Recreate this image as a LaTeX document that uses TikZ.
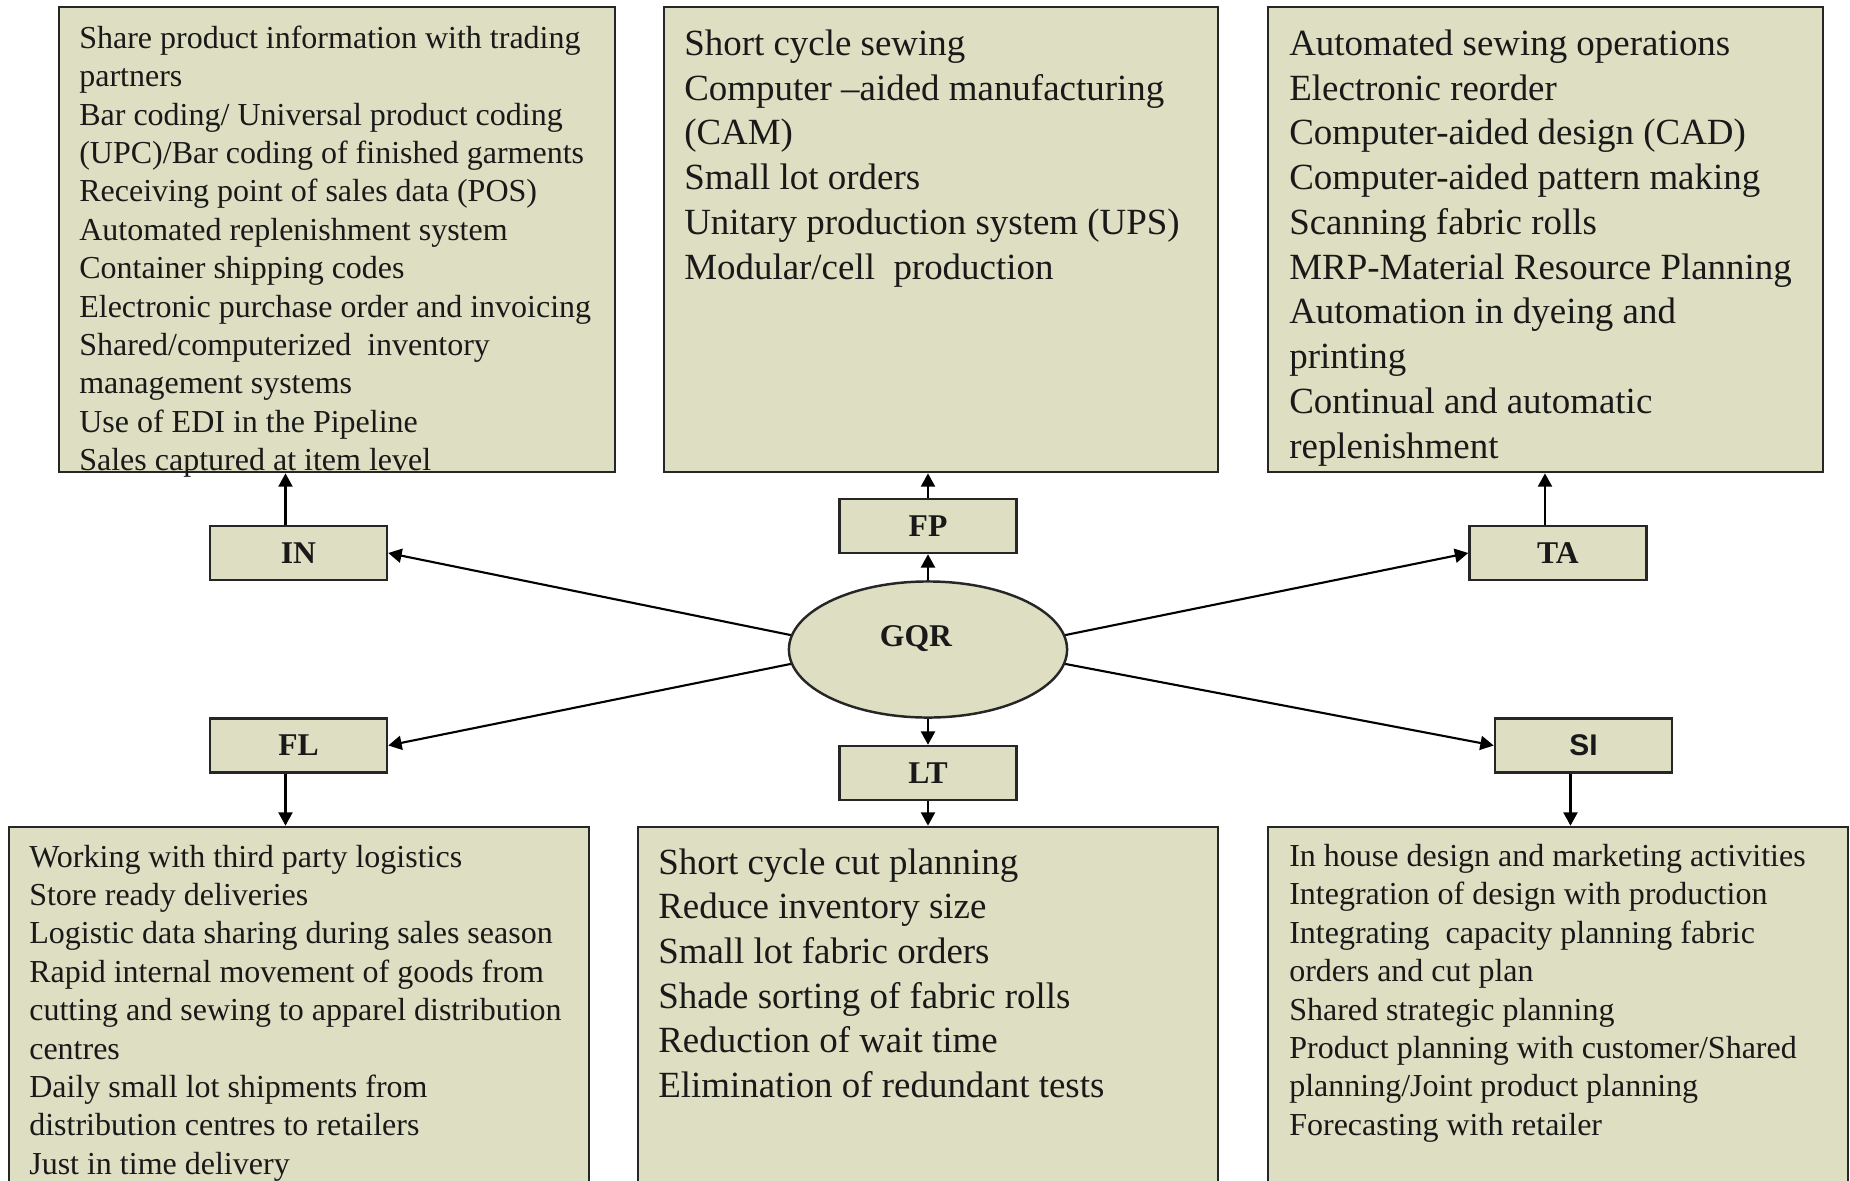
\documentclass[tikz,border=0pt]{standalone}
\usepackage{fontspec}
\setmainfont{Liberation Serif}
\newfontfamily\arialfont{Liberation Sans}
\usepackage{xcolor}
\usetikzlibrary{positioning, shapes.geometric, arrows.meta, calc}
\definecolor{khaki}{RGB}{222,222,194}

\begin{document}
\begin{tikzpicture}[
  x=0.01cm, y=-0.01cm,
  every node/.style={inner sep=0pt, text=black!90},
  listbox/.style={rectangle, fill=khaki, draw=black!85, line width=0.7pt,
                  minimum width=#1, minimum height=4.65cm},
  tag/.style={rectangle, fill=khaki, draw=black!85, line width=0.7pt,
              minimum width=1.77cm, minimum height=0.54cm,
              font=\fontsize{9}{11}\selectfont\bfseries},
  hub/.style={ellipse, fill=khaki, draw=black!85, line width=0.7pt,
              minimum width=2.78cm, minimum height=1.36cm},
  smalltxt/.style={anchor=north west, align=left, font=\fontsize{9.1}{10.92}\selectfont},
  bigtxt/.style={anchor=north west, align=left, font=\fontsize{10.5}{12.72}\selectfont},
  arr/.style={-{Triangle[length=3.8pt, width=4pt]}, line width=0.6pt},
]
\useasboundingbox (0,0) rectangle (1850,1181);
\clip (0,0) rectangle (1850,1181);

% top row of lists
\node[listbox=5.56cm] (inlist) at (337,239.5) {};
\node[listbox=5.54cm] (fplist) at (941,239.5) {};
\node[listbox=5.55cm] (talist) at (1545.5,239.5) {};

\node[smalltxt] (intext) at ($(inlist.north west)+(21,19.5)$) {%
  Share product information with trading\\
  partners\\
  Bar coding/ Universal product coding\\
  (UPC)/Bar coding of finished garments\\
  Receiving point of sales data (POS)\\
  Automated replenishment system\\
  Container shipping codes\\
  Electronic purchase order and invoicing\\
  Shared/computerized\ \ inventory\\
  management systems\\
  Use of EDI in the Pipeline\\
  Sales captured at item level};

\node[bigtxt] (fptext) at ($(fplist.north west)+(21,23.5)$) {%
  Short cycle sewing\\
  Computer –aided manufacturing\\
  (CAM)\\
  Small lot orders\\
  Unitary production system (UPS)\\
  Modular/cell\ \ production};

\node[bigtxt] (tatext) at ($(talist.north west)+(22,23.5)$) {%
  Automated sewing operations\\
  Electronic reorder\\
  Computer-aided design (CAD)\\
  Computer-aided pattern making\\
  Scanning fabric rolls\\
  MRP-Material Resource Planning\\
  Automation in dyeing and\\
  printing\\
  Continual and automatic\\
  replenishment};

% bottom row of lists
\node[listbox=5.80cm, minimum height=3.73cm] (fllist) at (299,1013.5) {};
\node[listbox=5.80cm, minimum height=3.73cm] (ltlist) at (928,1013.5) {};
\node[listbox=5.80cm, minimum height=3.73cm] (silist) at (1558,1013.5) {};

\node[smalltxt] (fltext) at ($(fllist.north west)+(21,18.5)$) {%
  Working with third party logistics\\
  Store ready deliveries\\
  Logistic data sharing during sales season\\
  Rapid internal movement of goods from\\
  cutting and sewing to apparel distribution\\
  centres\\
  Daily small lot shipments from\\
  distribution centres to retailers\\
  Just in time delivery};

\node[bigtxt] (lttext) at ($(ltlist.north west)+(21,22)$) {%
  Short cycle cut planning\\
  Reduce inventory size\\
  Small lot fabric orders\\
  Shade sorting of fabric rolls\\
  Reduction of wait time\\
  Elimination of redundant tests};

\node[smalltxt] (sitext) at ($(silist.north west)+(22,18)$) {%
  In house design and marketing activities\\
  Integration of design with production\\
  Integrating\ \ capacity planning fabric\\
  orders and cut plan\\
  Shared strategic planning\\
  Product planning with customer/Shared\\
  planning/Joint product planning\\
  Forecasting with retailer};

% tags and hub
\node[tag] (in) at (298.5,553) {IN};
\node[tag] (fp) at (928,526) {FP};
\node[tag] (ta) at (1558,553) {TA};
\node[tag] (fl) at (298.5,745.5) {FL};
\node[tag] (lt) at (928,773) {LT};
\node[tag, font=\arialfont\fontsize{8.5}{10}\selectfont\bfseries] (si) at (1583.5,745.5) {SI};

\node[hub] (gqr) at (928,649.5) {};
\node[font=\fontsize{9}{11}\selectfont\bfseries] (gqrlbl) at (916,638.5) {GQR};

% spokes
\draw[arr] (gqr.174) -- (in.east);
\draw[arr] (gqr.6) -- (ta.west);
\draw[arr] (gqr.186) -- (fl.east);
\draw[arr] (gqr.-6) -- (si.west);
\draw[arr] (gqr.north) -- (fp.south);
\draw[arr] (gqr.south) -- (lt.north);

% tags to lists
\draw[arr] (fp.north) -- (fp.north |- fplist.south);
\draw[arr] (lt.south) -- (lt.south |- ltlist.north);
\foreach \tg/\lst in {in/inlist, ta/talist} {
  \coordinate (\tg-up) at ([xshift=-0.13cm]\tg.north);
  \draw[arr] (\tg-up) -- (\tg-up |- \lst.south);
}
\foreach \tg/\lst in {fl/fllist, si/silist} {
  \coordinate (\tg-dn) at ([xshift=-0.13cm]\tg.south);
  \draw[arr] (\tg-dn) -- (\tg-dn |- \lst.north);
}
\end{tikzpicture}
\end{document}
